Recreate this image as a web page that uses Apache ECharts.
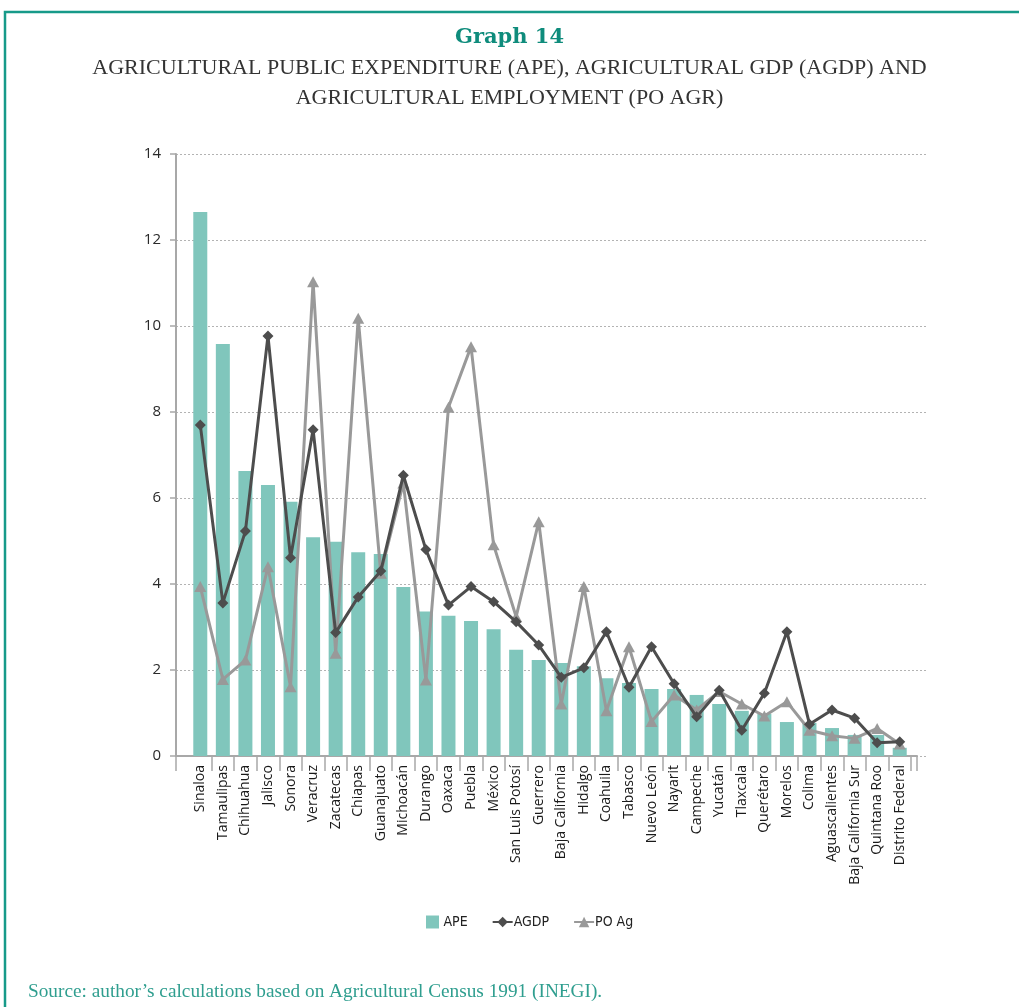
<!DOCTYPE html>
<html>
<head>
<meta charset="utf-8">
<script src="https://cdn.jsdelivr.net/npm/echarts@6/dist/echarts.min.js"></script>
<style>
  html, body { margin: 0; padding: 0; background: #ffffff; }
  #chart { width: 1019px; height: 1007px; }
</style>
</head>
<body>
<div id="chart"></div>
<script>
// States, ordered by agricultural public expenditure
const states = [
  'Sinaloa', 'Tamaulipas', 'Chihuahua', 'Jalisco', 'Sonora', 'Veracruz',
  'Zacatecas', 'Chiapas', 'Guanajuato', 'Michoacán', 'Durango', 'Oaxaca',
  'Puebla', 'México', 'San Luis Potosí', 'Guerrero', 'Baja California',
  'Hidalgo', 'Coahuila', 'Tabasco', 'Nuevo León', 'Nayarit', 'Campeche',
  'Yucatán', 'Tlaxcala', 'Querétaro', 'Morelos', 'Colima', 'Aguascalientes',
  'Baja California Sur', 'Quintana Roo', 'Distrito Federal'
];

// Agricultural public expenditure (%)
const ape = [
  12.65, 9.58, 6.63, 6.30, 5.91, 5.09, 4.98, 4.74, 4.70, 3.93, 3.36, 3.26,
  3.14, 2.95, 2.47, 2.23, 2.16, 2.09, 1.81, 1.70, 1.56, 1.56, 1.42, 1.21,
  1.05, 0.98, 0.79, 0.77, 0.65, 0.49, 0.49, 0.19
];

// Agricultural GDP (%)
const agdp = [
  7.70, 3.56, 5.23, 9.77, 4.61, 7.59, 2.87, 3.70, 4.30, 6.53, 4.80, 3.51,
  3.94, 3.59, 3.12, 2.58, 1.83, 2.05, 2.89, 1.60, 2.54, 1.68, 0.91, 1.53,
  0.60, 1.46, 2.89, 0.74, 1.07, 0.88, 0.31, 0.33
];

// Agricultural employment (%)
const poAg = [
  3.94, 1.78, 2.23, 4.40, 1.61, 11.03, 2.39, 10.18, 4.25, 6.35, 1.77, 8.11,
  9.52, 4.91, 3.24, 5.45, 1.21, 3.94, 1.05, 2.54, 0.80, 1.42, 1.07, 1.50,
  1.21, 0.93, 1.26, 0.60, 0.47, 0.41, 0.64, 0.28
];

// Value axis ticks
const yTicks = { min: 0, max: 14, interval: 2 };

// Heading lines
const heading = 'Graph 14';
const subtitleLines = [
  'AGRICULTURAL PUBLIC EXPENDITURE (APE), AGRICULTURAL GDP (AGDP) AND',
  'AGRICULTURAL EMPLOYMENT (PO AGR)'
];
const sourceNote = 'Source: author\u2019s calculations based on Agricultural Census 1991 (INEGI).';

const TEAL = '#179a89';
const AXIS_GRAY = '#a8a8a8';

const subtitleStyle = {
  fontFamily: 'Liberation Serif',
  fontWeight: 'normal',
  fontSize: 22,
  lineHeight: 30,
  color: '#333333'
};

const chart = echarts.init(document.getElementById('chart'), null, { renderer: 'canvas' });

chart.setOption({
  backgroundColor: '#ffffff',
  animation: false,
  title: [
    {
      text: heading,
      left: 'center',
      top: 25,
      padding: 0,
      textStyle: {
        fontFamily: 'DejaVu Serif',
        fontWeight: 'bold',
        fontSize: 21,
        lineHeight: 26,
        color: '#0f8c7c'
      }
    },
    { text: subtitleLines[0], left: 'center', top: 53, padding: 0, textStyle: subtitleStyle },
    { text: subtitleLines[1], left: 'center', top: 83, padding: 0, textStyle: subtitleStyle },
    {
      text: sourceNote,
      left: 28,
      top: 981,
      padding: 0,
      textStyle: {
        fontFamily: 'Liberation Serif',
        fontWeight: 'normal',
        fontSize: 19.3,
        lineHeight: 22,
        color: '#2f9e8f'
      }
    }
  ],
  legend: {
    left: 426,
    top: 915,
    padding: 0,
    itemGap: 24,
    itemWidth: 20,
    itemHeight: 13,
    textStyle: {
      fontFamily: 'Liberation Sans Narrow, DejaVu Sans Condensed, sans-serif',
      fontSize: 14,
      color: '#222222',
      padding: [0, 0, 0, -4]
    },
    data: [
      { name: 'APE', icon: 'path://M0,0H10V10H0Z' },
      { name: 'AGDP' },
      { name: 'PO Ag' }
    ]
  },
  grid: [
    // value axis and dotted gridlines
    { left: 176, right: 91, top: 154, bottom: 251 },
    // category band for the marks
    { left: 189, right: 108, top: 154, bottom: 251 },
    // baseline of the category axis
    { left: 176, right: 102, top: 154, bottom: 251 }
  ],
  xAxis: [
    { gridIndex: 0, type: 'value', show: false, min: 0, max: 1 },
    {
      gridIndex: 1,
      type: 'category',
      data: states,
      boundaryGap: true,
      axisLine: { show: false },
      axisTick: {
        show: true,
        length: 15,
        interval: function (index) { return index !== 0; },
        lineStyle: { color: AXIS_GRAY, width: 1.5 }
      },
      axisLabel: {
        rotate: 90,
        margin: 9,
        interval: 0,
        fontFamily: 'Open Sans',
        fontSize: 14,
        color: '#1a1a1a'
      },
      splitLine: { show: false }
    },
    {
      gridIndex: 2,
      type: 'value',
      min: 0,
      max: 1,
      interval: 1,
      axisLine: { show: true, onZero: false, lineStyle: { color: AXIS_GRAY, width: 2 } },
      axisTick: { show: true, length: 15, lineStyle: { color: AXIS_GRAY, width: 1.5 } },
      axisLabel: { show: false },
      splitLine: { show: false }
    }
  ],
  yAxis: [
    {
      gridIndex: 0,
      type: 'value',
      min: yTicks.min,
      max: yTicks.max,
      interval: yTicks.interval,
      axisLine: { show: true, lineStyle: { color: AXIS_GRAY, width: 2 } },
      axisTick: { show: true, length: 6, lineStyle: { color: AXIS_GRAY, width: 1.5 } },
      axisLabel: {
        margin: 15,
        fontFamily: 'Open Sans',
        fontSize: 15,
        color: '#2a2a2a'
      },
      splitLine: {
        show: true,
        lineStyle: { color: '#b3b3b3', type: [2, 2], width: 1 }
      }
    },
    { gridIndex: 1, type: 'value', min: yTicks.min, max: yTicks.max, show: false },
    { gridIndex: 2, type: 'value', min: yTicks.min, max: yTicks.max, show: false }
  ],
  graphic: [
    {
      type: 'polyline',
      shape: { points: [[5, 1007], [5, 12], [1019, 12]] },
      style: { stroke: TEAL, lineWidth: 2.5, fill: null },
      silent: true
    }
  ],
  series: [
    {
      name: 'APE',
      type: 'bar',
      xAxisIndex: 1,
      yAxisIndex: 1,
      data: ape,
      barWidth: 14,
      itemStyle: { color: '#80c6bc' },
      z: 2
    },
    {
      name: 'PO Ag',
      type: 'line',
      xAxisIndex: 1,
      yAxisIndex: 1,
      data: poAg,
      symbol: 'triangle',
      symbolSize: [12, 11],
      lineStyle: { color: '#999999', width: 3 },
      itemStyle: { color: '#999999' },
      z: 3
    },
    {
      name: 'AGDP',
      type: 'line',
      xAxisIndex: 1,
      yAxisIndex: 1,
      data: agdp,
      symbol: 'diamond',
      symbolSize: [11, 11],
      lineStyle: { color: '#4d4d4d', width: 3 },
      itemStyle: { color: '#4d4d4d' },
      z: 4
    }
  ]
});
</script>
</body>
</html>
